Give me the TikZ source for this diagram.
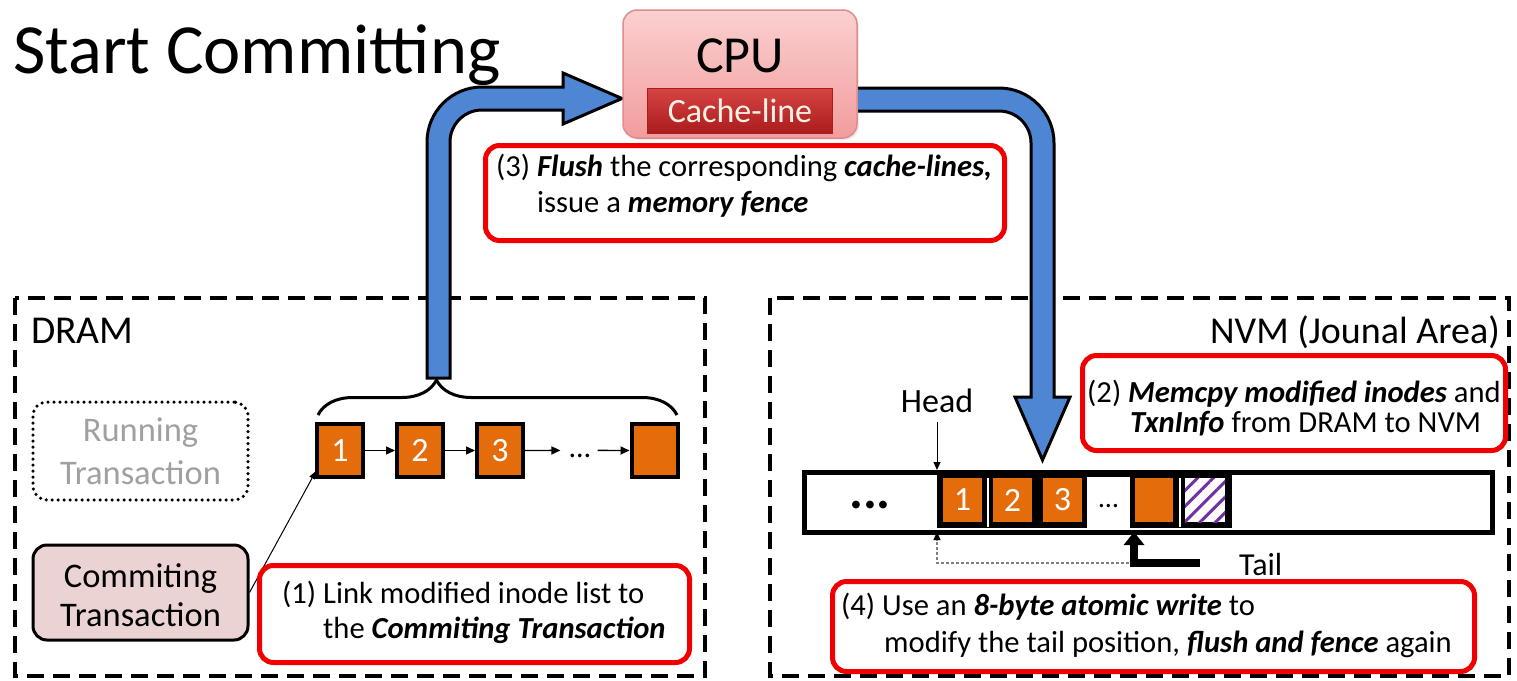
\documentclass[tikz,border=0pt]{standalone}
\usepackage{fontspec}
\setmainfont{Carlito}
\usetikzlibrary{arrows.meta,decorations.pathreplacing,patterns.meta,calc,shadows}
\definecolor{flowblue}{HTML}{4F86D4}
\definecolor{boxorange}{HTML}{E46C0A}
\definecolor{calloutred}{HTML}{F00000}
\definecolor{hatchpurple}{HTML}{7030A0}
\definecolor{cpupinkA}{HTML}{FBD0D0}
\definecolor{cpupinkB}{HTML}{F29C9C}
\definecolor{cpuedge}{HTML}{E08C8C}
\definecolor{cacheA}{HTML}{D64444}
\definecolor{cacheB}{HTML}{AC1C1C}
\definecolor{cachetext}{HTML}{FFF3E6}
\definecolor{commitfill}{HTML}{EBD3D3}
\definecolor{runninggray}{HTML}{A0A0A0}
\newcommand\fsz[1]{\fontsize{#1}{#1}\selectfont}
\begin{document}
\begin{tikzpicture}[x=1pt,y=1pt,
  callout/.style={draw=calloutred, line width=5pt, rounded corners=14pt, fill=white,
                  anchor=north west, inner sep=0pt},
  region/.style={draw, line width=4.5pt, dash pattern=on 17pt off 9pt},
  txt/.style={anchor=base west, inner sep=0pt, font=\fsz{30.6}},
  ctxt/.style={anchor=base, inner sep=0pt, font=\fsz{34.5}},
  obox/.style={draw, line width=4pt, fill=boxorange, minimum width=46pt,
               minimum height=53pt, inner sep=0pt, text=white, font=\fsz{34}},
  cell/.style={fill=boxorange, minimum width=39pt, minimum height=44pt,
               inner sep=0pt, text=white, font=\fsz{34}},
  link/.style={line width=1.4pt, -{Triangle[length=9pt,width=8pt]}},
  flow/.style={draw=black, line width=3pt, fill=flowblue, line join=miter},
]
\useasboundingbox (0,0) rectangle (1517,-680);

% memory regions
\draw[region] (15,-298) rectangle (705,-676);
\draw[region] (770,-298) rectangle (1509,-676);
\node[anchor=base west, inner sep=0pt, font=\fsz{39.5}] (dramlbl) at (31,-343) {DRAM};
\node[anchor=base east, inner sep=0pt, font=\fsz{38}] (nvmlbl) at (1500,-343) {NVM (Jounal Area)};

% title
\node[anchor=base west, inner sep=0pt, font=\fsz{70.5}] (title) at (13,-73) {Start Committing};

% flush path: DRAM -> CPU
\path[flow] (427,-378) -- (427,-142) arc[start angle=180, end angle=90, radius=55]
  -- (563,-87) -- (563,-73) -- (622,-98.5) -- (563,-124) -- (563,-110)
  -- (482,-110) arc[start angle=90, end angle=180, radius=32] -- (450,-378) -- cycle;

% copy path: CPU -> NVM
\path[flow] (850,-88) -- (999,-88) arc[start angle=90, end angle=0, radius=55]
  -- (1054,-397) -- (1070,-397) -- (1042.5,-460) -- (1015,-397) -- (1031,-397)
  -- (1031,-143) arc[start angle=0, end angle=90, radius=32] -- (850,-111) -- cycle;

% CPU with its cache line
\node[draw=cpuedge, line width=1.5pt, rounded corners=14pt, top color=cpupinkA,
      bottom color=cpupinkB, minimum width=234pt, minimum height=128pt,
      drop shadow={opacity=0.15, shadow xshift=2pt, shadow yshift=-2pt}] (cpu) at (740,-74) {};
\node[anchor=base, inner sep=0pt, font=\fsz{52}] (cpulbl) at (740,-72) {CPU};
\node[draw=cacheB, line width=1pt, top color=cacheA, bottom color=cacheB,
      minimum width=185pt, minimum height=45pt] (cache) at (739.5,-110.5) {};
\node[anchor=base, inner sep=0pt, font=\fsz{34}, text=cachetext] (cachelbl) at (740,-122) {Cache-line};

% step (3)
\node[callout, minimum width=519pt, minimum height=95pt] (c3) at (483,-143) {};
\node[txt] (c3a) at (496,-176) {(3) \textbf{\textit{Flush}} the corresponding \textbf{\textit{cache-lines,}}};
\node[txt] (c3b) at (537,-212) {issue a \textbf{\textit{memory fence}}};

% transactions in DRAM
\node[draw, line width=3.5pt, dash pattern=on 0pt off 6pt, line cap=round,
      rounded corners=14pt, minimum width=215pt, minimum height=98pt] (running) at (140.5,-451) {};
\node[ctxt, text=runninggray] (runa) at (140.5,-441) {Running};
\node[ctxt, text=runninggray] (runb) at (140.5,-484) {Transaction};
\node[draw, line width=3pt, fill=commitfill, rounded corners=14pt,
      minimum width=215pt, minimum height=95pt] (commit) at (140.5,-592.5) {};
\node[ctxt] (coma) at (140.5,-587) {Commiting};
\node[ctxt] (comb) at (140.5,-626) {Transaction};

% modified inode list
\node[obox] (b1) at (340,-450.5) {1};
\node[obox] (b2) at (420,-450.5) {2};
\node[obox] (b3) at (500,-450.5) {3};
\node[obox] (b4) at (654.5,-450.5) {};
\node[anchor=base, inner sep=0pt, font=\fsz{30}] (chaindots) at (580,-457) {\dots};
\draw[link] (b1.east) -- (b2.west);
\draw[link] (b2.east) -- (b3.west);
\draw[link] (b3.east) -- ($(chaindots.west)+(-9,5)$);
\draw[link] ($(chaindots.east)+(7,5)$) -- (b4.west);
\draw[line width=1pt, -{Triangle[length=8pt,width=6pt]}] (commit.east) -- ($(b1.south west)+(1,8)$);
\draw[line width=3pt, decorate, decoration={brace, amplitude=35pt, aspect=0.33}]
  (318,-415) -- (677,-415);

% step (1)
\node[callout, minimum width=430pt, minimum height=97pt] (c1) at (257,-563) {};
\node[txt] (c1a) at (282,-603) {(1) Link modified inode list to};
\node[txt] (c1b) at (323,-638) {the \textbf{\textit{Commiting Transaction}}};

% journal area in NVM
\node[draw, line width=5pt, minimum width=688pt, minimum height=60pt, anchor=north west] (bar) at (802,-470) {};
\fill (937,-472) rectangle (1232,-528);
\fill[white] (1087,-477) rectangle (1130,-528);
\fill[white] (987,-478) rectangle (989,-527);
\fill[white] (1179,-478) rectangle (1181,-527);
\node[anchor=base, inner sep=0pt, font=\fsz{52}\bfseries] (bardots) at (870,-508) {...};
\node[cell] (j1) at (962.5,-500) {1};
\node[cell] (j2) at (1012.5,-500) {2};
\node[cell] (j3) at (1062.5,-500) {3};
\node[anchor=base, inner sep=0pt, font=\fsz{28}] (celldots) at (1108.5,-507) {\dots};
\node[cell, minimum width=38pt] (j4) at (1154,-500) {};
\node[fill=white, minimum width=40pt, minimum height=44pt, inner sep=0pt,
      postaction={pattern={Lines[angle=45,distance=11pt,line width=3pt]}, pattern color=hatchpurple}]
      (info) at (1205,-500) {};

% head and tail pointers
\node[anchor=base, inner sep=0pt, font=\fsz{34}] (head) at (937,-412) {Head};
\coordinate (headtop) at (937,-470);
\coordinate (headbot) at (937,-532);
\coordinate (tailbot) at (1134,-532);
\coordinate (tailstart) at (1200,-563);
\draw[line width=1pt, -{Triangle[length=8pt,width=7pt]}] ($(head.south)+(0,-10)$) -- (headtop);
\draw[gray, line width=1.2pt, dash pattern=on 3pt off 2pt, -{Triangle[length=8pt,width=7pt,color=black]}]
  (tailbot |- tailstart) -| (headbot);
\draw[line width=8pt, -{Triangle[length=13pt,width=20pt]}] (tailstart) -| (tailbot);
\node[anchor=base west, inner sep=0pt, font=\fsz{32}] (tail) at (1239,-575) {Tail};

% step (2)
\node[callout, minimum width=423pt, minimum height=95pt] (c2) at (1080,-353) {};
\node[txt] (c2a) at (1087,-402) {(2) \textbf{\textit{Memcpy modified inodes}} and};
\node[txt] (c2b) at (1130,-432) {\textbf{\textit{TxnInfo}} from DRAM to NVM};

% step (4)
\node[callout, minimum width=642pt, minimum height=90pt] (c4) at (830,-579) {};
\node[txt] (c4a) at (841,-615) {(4) Use an \textbf{\textit{8-byte atomic write}} to};
\node[txt] (c4b) at (884,-652) {modify the tail position, \textbf{\textit{flush and fence}} again};
\end{tikzpicture}
\end{document}
